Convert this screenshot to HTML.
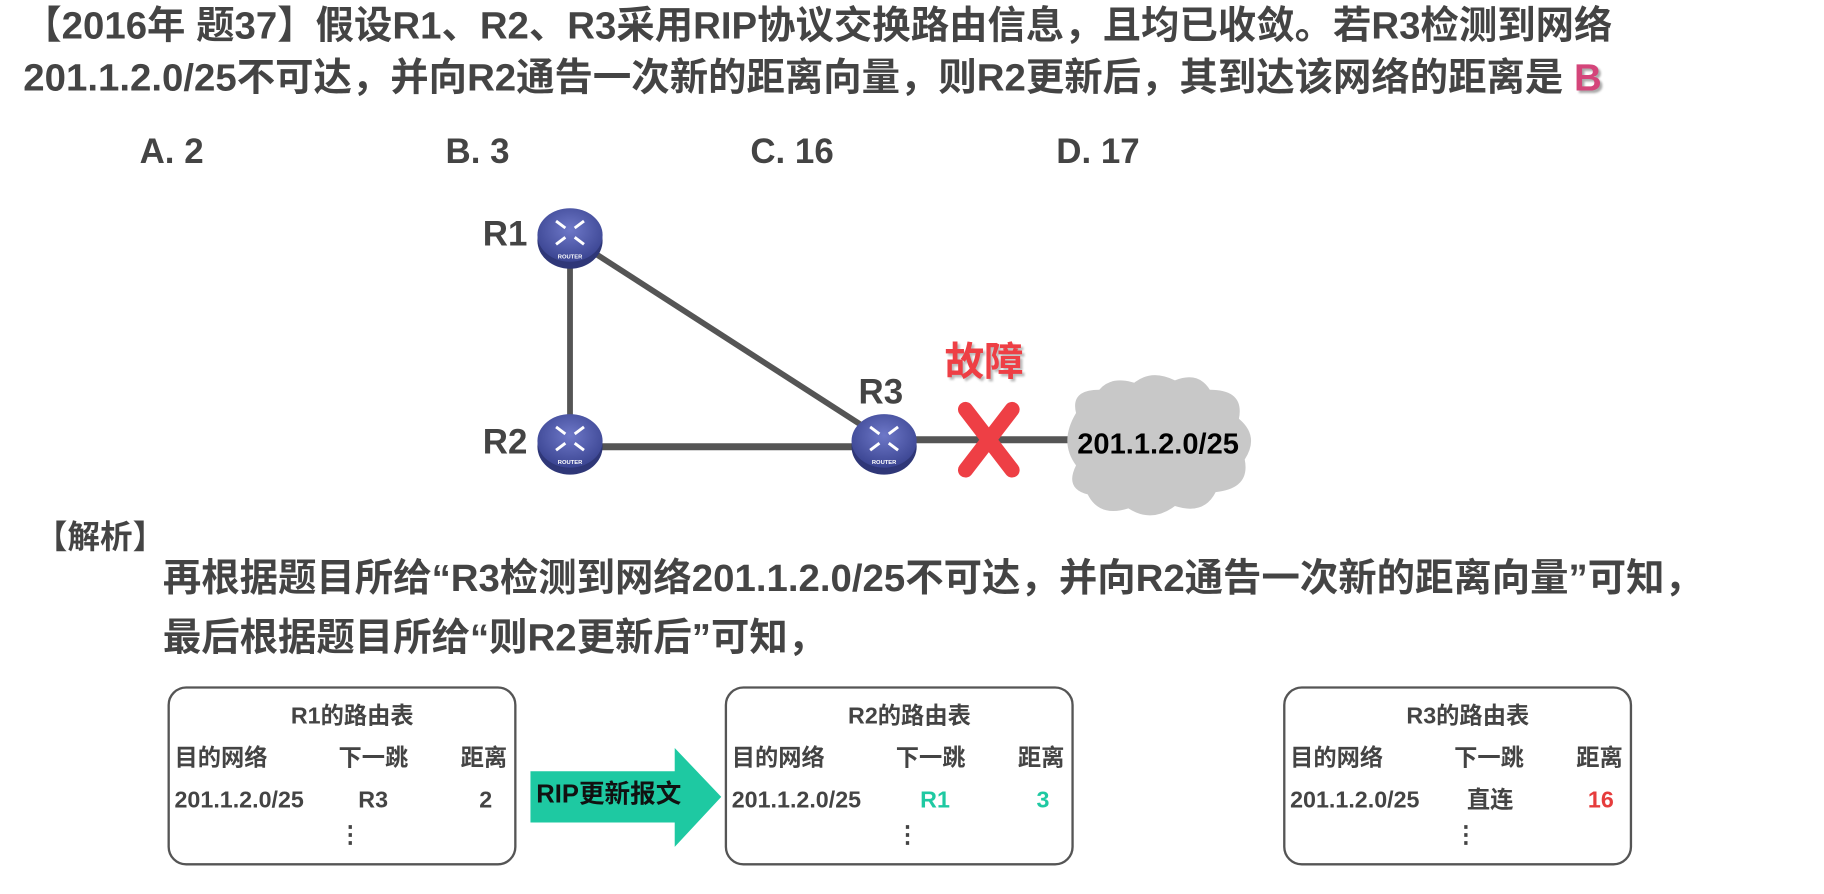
<!DOCTYPE html>
<html><head><meta charset="utf-8">
<style>
html,body{margin:0;padding:0;background:#fff;overflow:hidden;width:1824px;height:894px}
#w{position:absolute;left:0;top:0;width:1568px;height:768px;transform:scale(1.1633);transform-origin:0 0;font-family:"Liberation Sans","Noto Sans CJK SC",sans-serif;font-weight:bold;color:#444}
.t{position:absolute;white-space:nowrap;line-height:1}
.box{position:absolute;border:2.5px solid #555;border-radius:16px;width:300px;height:154px;box-sizing:border-box;background:#fff}
.box .t{font-size:20px;color:#444}
</style></head><body><div id="w">
<div class="t" style="left:20px;top:5px;font-size:33px;color:#444">【2016年 题37】假设R1、R2、R3采用RIP协议交换路由信息，且均已收敛。若R3检测到网络</div>
<div class="t" style="left:20px;top:50px;font-size:33px;color:#444">201.1.2.0/25不可达，并向R2通告一次新的距离向量，则R2更新后，其到达该网络的距离是 <span style="color:#d4457a;text-shadow:2px 2px 2px #aaa">B</span></div>
<div class="t" style="left:120px;top:116px;font-size:30px">A. 2</div>
<div class="t" style="left:383px;top:116px;font-size:30px">B. 3</div>
<div class="t" style="left:645px;top:116px;font-size:30px">C. 16</div>
<div class="t" style="left:908px;top:116px;font-size:30px">D. 17</div>

<svg style="position:absolute;left:0;top:0" width="1568" height="768">
<defs><radialGradient id="g" cx="50%" cy="40%" r="60%"><stop offset="0" stop-color="#6e78c8"/><stop offset="1" stop-color="#3b4592"/></radialGradient>
<g id="rt"><ellipse cx="0" cy="5" rx="28" ry="24" fill="#2f3778"/><ellipse cx="0" cy="0" rx="28" ry="23" fill="url(#g)"/>
<path d="M-12-12l8 6M12-12l-8 6M-12 8l8-6M12 8l-8-6" stroke="#fff" stroke-width="2.5"/><text x="0" y="20" font-size="5" fill="#fff" text-anchor="middle" font-family="Liberation Sans">ROUTER</text></g></defs>
<line x1="490" y1="204" x2="490" y2="381" stroke="#555" stroke-width="5"/>
<line x1="490" y1="204" x2="760" y2="378" stroke="#555" stroke-width="5"/>
<line x1="490" y1="384" x2="760" y2="384" stroke="#555" stroke-width="6"/>
<line x1="760" y1="378" x2="925" y2="378" stroke="#555" stroke-width="6"/>
<path d="M925 355 q-5-20 20-20 q10-12 30-6 q15-12 35-2 q20-8 30 8 q30 0 25 25 q18 15 5 35 q5 25-25 28 q-10 20-35 12 q-20 15-40 2 q-25 8-35-12 q-20-5-10-25 q-15-20 0-45z" fill="#c8c8c8"/>
<path d="M830 352 L870 404 M870 352 L830 404" stroke="#ee3f45" stroke-width="13" stroke-linecap="round"/>
<use href="#rt" x="490" y="202"/><use href="#rt" x="490" y="379"/><use href="#rt" x="760" y="379"/>
<polygon points="456,663 580,663 580,643 620,685 580,728 580,707 456,707" fill="#1ec9a2"/>
</svg>
<div class="t" style="left:415px;top:187px;font-size:30px">R1</div>
<div class="t" style="left:415px;top:366px;font-size:30px">R2</div>
<div class="t" style="left:738px;top:323px;font-size:30px">R3</div>
<div class="t" style="left:812px;top:295px;font-size:34px;color:#ee3f45;text-shadow:2px 2px 2px #bbb">故障</div>
<div class="t" style="left:926px;top:370px;font-size:25px;color:#000">201.1.2.0/25</div>
<div class="t" style="left:30px;top:448px;font-size:28px">【解析】</div>
<div class="t" style="left:140px;top:480px;font-size:33px">再根据题目所给“R3检测到网络201.1.2.0/25不可达，并向R2通告一次新的距离向量”可知，</div>
<div class="t" style="left:140px;top:531px;font-size:33px">最后根据题目所给“则R2更新后”可知，</div>
<div class="t" style="left:461px;top:672px;font-size:22px;color:#111">RIP更新报文</div>

<div class="box" style="left:144px;top:590px">
<div class="t" style="left:104px;top:14px">R1的路由表</div>
<div class="t" style="left:4px;top:50px">目的网络</div><div class="t" style="left:145px;top:50px">下一跳</div><div class="t" style="left:250px;top:50px">距离</div>
<div class="t" style="left:4px;top:86px">201.1.2.0/25</div><div class="t" style="left:162px;top:86px">R3</div><div class="t" style="left:266px;top:86px">2</div>
<div class="t" style="left:145px;top:116px">⋮</div></div>
<div class="box" style="left:623px;top:590px">
<div class="t" style="left:104px;top:14px">R2的路由表</div>
<div class="t" style="left:4px;top:50px">目的网络</div><div class="t" style="left:145px;top:50px">下一跳</div><div class="t" style="left:250px;top:50px">距离</div>
<div class="t" style="left:4px;top:86px">201.1.2.0/25</div><div class="t" style="left:166px;top:86px;color:#1ec9a2">R1</div><div class="t" style="left:266px;top:86px;color:#1ec9a2">3</div>
<div class="t" style="left:145px;top:116px">⋮</div></div>
<div class="box" style="left:1103px;top:590px">
<div class="t" style="left:104px;top:14px">R3的路由表</div>
<div class="t" style="left:4px;top:50px">目的网络</div><div class="t" style="left:145px;top:50px">下一跳</div><div class="t" style="left:250px;top:50px">距离</div>
<div class="t" style="left:4px;top:86px">201.1.2.0/25</div><div class="t" style="left:156px;top:86px">直连</div><div class="t" style="left:260px;top:86px;color:#e63c3c">16</div>
<div class="t" style="left:145px;top:116px">⋮</div></div>
</div></body></html>
